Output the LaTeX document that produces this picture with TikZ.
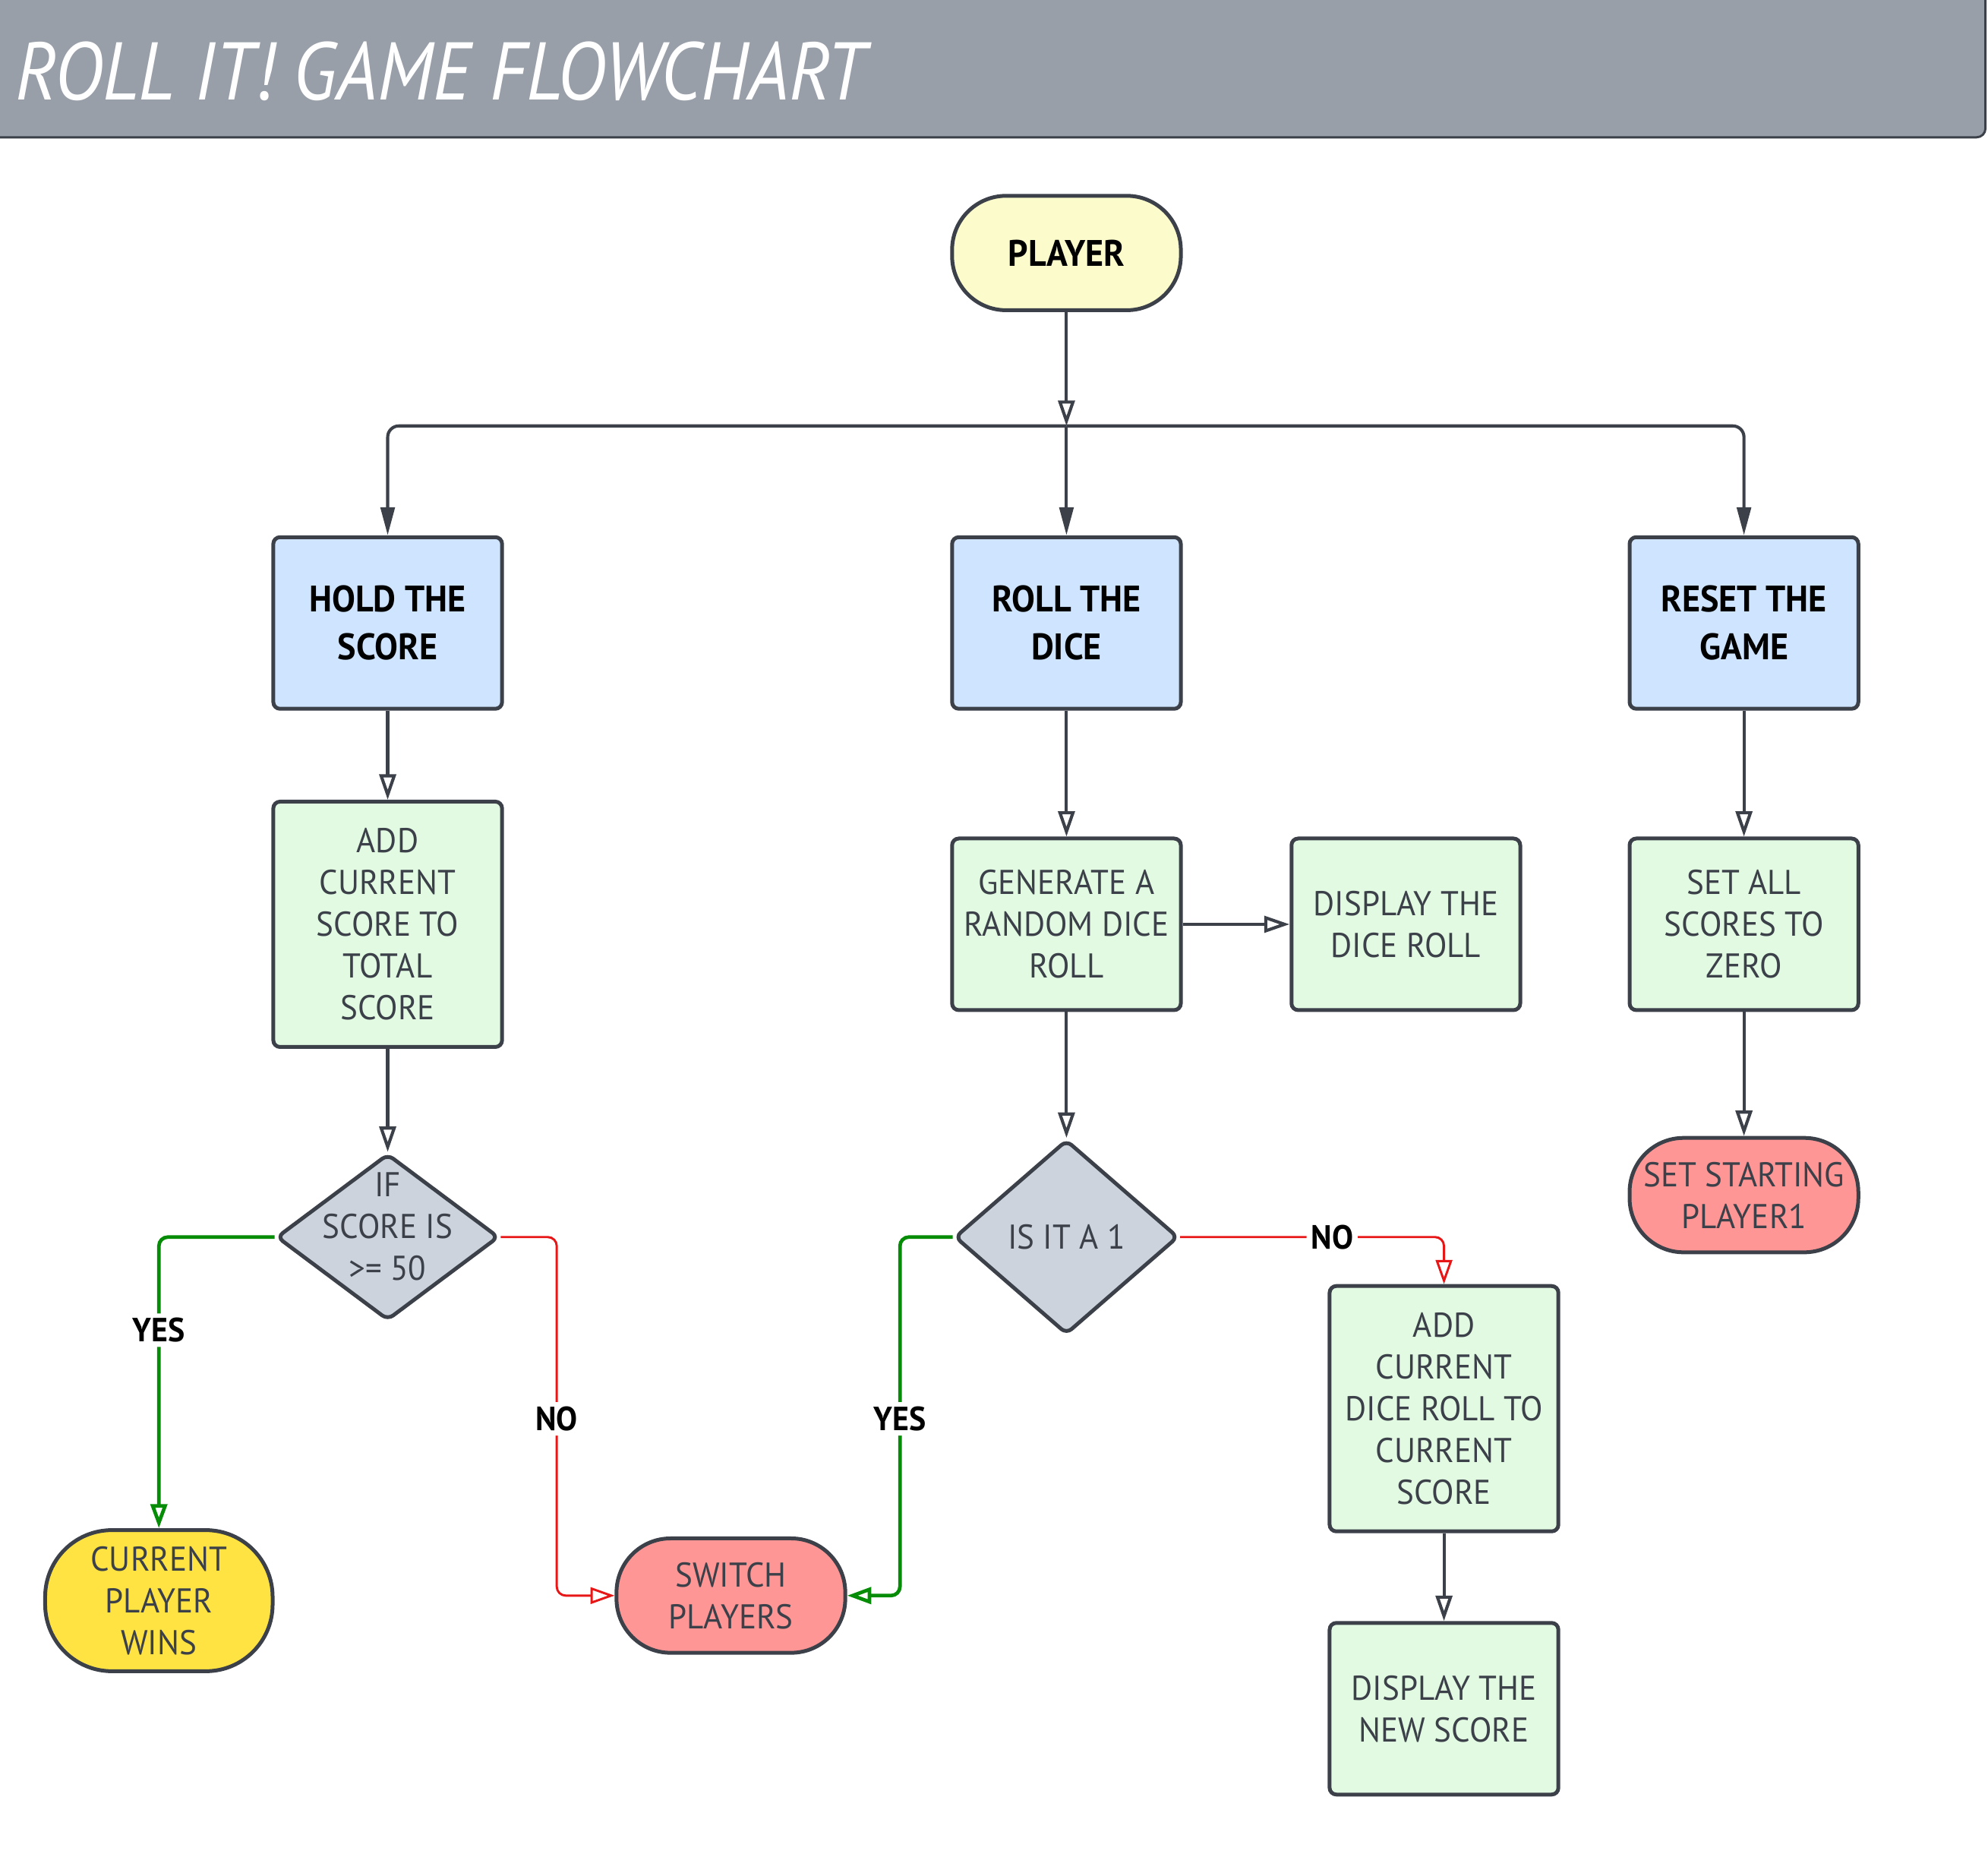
\documentclass[tikz,border=0pt]{standalone}
\usepackage{fontspec}
\setmainfont[FakeStretch=0.95]{PT Sans}
\newfontfamily\titlefont[FakeStretch=0.9]{PT Sans}
\usepackage{xcolor}
\usetikzlibrary{shapes.geometric,arrows.meta}

\definecolor{titlegray}{HTML}{989FA9}
\definecolor{linedark}{HTML}{3B4049}
\definecolor{playeryellow}{HTML}{FCFBCB}
\definecolor{topblue}{HTML}{CFE4FF}
\definecolor{stepgreen}{HTML}{E2FAE2}
\definecolor{decidegray}{HTML}{CCD3DC}
\definecolor{stopred}{HTML}{FF9696}
\definecolor{winyellow}{HTML}{FEE342}
\definecolor{yesgreen}{HTML}{078C07}
\definecolor{nored}{HTML}{E81717}

\begin{document}
\begin{tikzpicture}[x=0.02cm, y=-0.02cm,
    box/.style={rectangle, draw=linedark, line width=1.7pt, rounded corners=3pt,
      minimum width=3.6cm, minimum height=2.7cm, align=center, inner sep=2pt},
    topbox/.style={box, fill=topblue, text=black, font=\bfseries\fontsize{16.5}{21.6}\selectfont},
    stepbox/.style={box, fill=stepgreen, text=linedark, font=\fontsize{15.4}{18.7}\selectfont},
    pill/.style={rectangle, draw=linedark, line width=1.7pt, rounded corners=0.85cm,
      minimum width=3.6cm, minimum height=1.8cm, align=center, text=linedark,
      font=\fontsize{15.4}{18.7}\selectfont},
    decide/.style={diamond, draw=linedark, line width=1.7pt, rounded corners=3pt,
      fill=decidegray, inner sep=0pt},
    decidetext/.style={align=center, text=linedark, font=\fontsize{15.4}{18.7}\selectfont},
    flow/.style={draw=linedark, line width=1.4pt, rounded corners=4pt,
      -{Triangle[open, length=0.4cm, width=0.26cm]}},
    spread/.style={draw=linedark, line width=1.4pt, rounded corners=5pt,
      -{Triangle[length=0.44cm, width=0.22cm]}},
    yesline/.style={draw=yesgreen, line width=1.6pt, rounded corners=4pt,
      -{Triangle[open, length=0.38cm, width=0.26cm]}},
    noline/.style={draw=nored, line width=1pt, rounded corners=4pt,
      -{Triangle[open, length=0.38cm, width=0.26cm]}},
    edgelabel/.style={fill=white, text=black, inner sep=2pt,
      font=\bfseries\fontsize{15}{15}\selectfont}]

  \useasboundingbox (0,0) rectangle (1564,1475);

  % title bar
  \fill[titlegray, draw=linedark, line width=1pt, rounded corners=4pt]
    (-10,-10) rectangle (1562,108);
  \node[anchor=west, text=white, font=\titlefont\itshape\fontsize{36.6}{36.6}\selectfont]
    (title) at (6,56) {ROLL IT! GAME FLOWCHART};

  % start
  \node[pill, fill=playeryellow, text=black, font=\bfseries\fontsize{16.5}{21.6}\selectfont]
    (player) at (839,199) {PLAYER};
  \coordinate (split) at (839,335);

  % three choices
  \node[topbox] (hold)  at (305,490)  {HOLD THE\\SCORE};
  \node[topbox] (roll)  at (839,490)  {ROLL THE\\DICE};
  \node[topbox] (reset) at (1372,490) {RESET THE\\GAME};

  % hold branch
  \node[stepbox, minimum height=3.86cm] (addtotal) at (305,727)
    {ADD\\CURRENT\\SCORE TO\\TOTAL\\SCORE};
  \node[decide, minimum width=3.5cm, minimum height=2.62cm,
    label={[decidetext, yshift=0.16cm]center:IF\\SCORE IS\\>= 50}] (check50) at (305,973) {};
  \node[pill, fill=winyellow, rounded corners=1.05cm, minimum height=2.22cm,
    minimum width=3.58cm] (wins) at (125,1259) {CURRENT\\PLAYER\\WINS};
  \node[pill, fill=stopred] (switch) at (575,1255) {SWITCH\\PLAYERS};

  % roll branch
  \node[stepbox] (generate) at (839,727) {GENERATE A\\RANDOM DICE\\ROLL};
  \node[stepbox] (showroll) at (1106,727) {DISPLAY THE\\DICE ROLL};
  \node[decide, minimum width=3.52cm, minimum height=3.06cm,
    label={[decidetext]center:IS IT A 1}] (isone) at (839,973) {};
  \node[stepbox, minimum height=3.86cm] (addroll) at (1136,1108)
    {ADD\\CURRENT\\DICE ROLL TO\\CURRENT\\SCORE};
  \node[stepbox] (newscore) at (1136,1344) {DISPLAY THE\\NEW SCORE};

  % reset branch
  \node[stepbox] (zero) at (1372,727) {SET ALL\\SCORES TO\\ZERO};
  \node[pill, fill=stopred] (first) at (1372,940) {SET STARTING\\PLAYER1};

  % connectors
  \draw[flow] (player) -- (split);
  \draw[spread] (split) -| (hold);
  \draw[spread] (split) -- (roll);
  \draw[spread] (split) -| (reset);

  \draw[flow] (hold) -- (addtotal);
  \draw[flow] (addtotal) -- (check50);
  \draw[yesline] (check50.west) -| (wins) node[edgelabel, pos=0.66] {YES};
  \draw[noline] (check50.east) -| (438,1116) node[edgelabel] {NO} |- (switch);

  \draw[flow] (roll) -- (generate);
  \draw[flow] (generate) -- (showroll);
  \draw[flow] (generate) -- (isone);
  \draw[yesline] (isone.west) -| (708,1116) node[edgelabel] {YES} |- (switch);
  \draw[noline] (isone.east) -- (1048,973) node[edgelabel] {NO} -| (addroll);
  \draw[flow] (addroll) -- (newscore);

  \draw[flow] (reset) -- (zero);
  \draw[flow] (zero) -- (first);
\end{tikzpicture}
\end{document}
